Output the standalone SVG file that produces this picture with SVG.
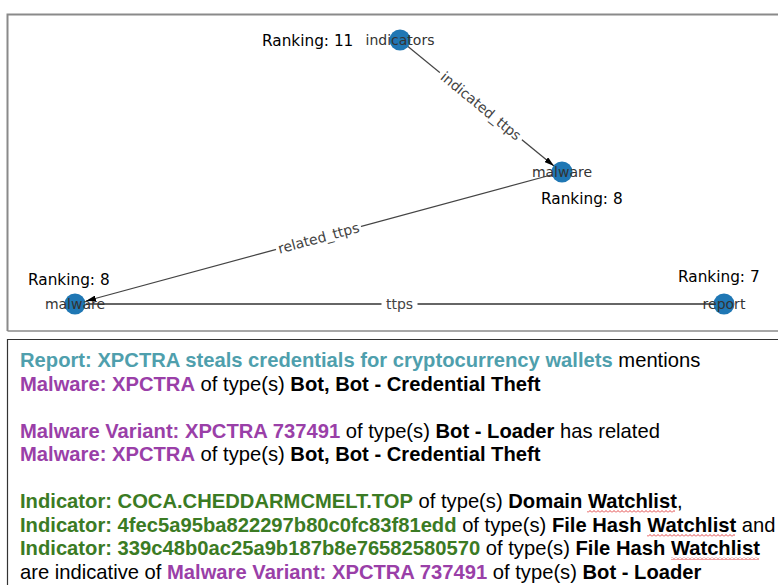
<svg xmlns="http://www.w3.org/2000/svg" width="778" height="585" viewBox="0 0 778 585">
<style>
.node{fill:#1f77b4}
.nl{font-family:"DejaVu Sans",sans-serif;font-size:14px;fill:#333;text-anchor:middle}
.rk{font-family:"DejaVu Sans",sans-serif;font-size:15.3px;fill:#000}
.el{font-family:"DejaVu Sans",sans-serif;font-size:14px;fill:#444;text-anchor:middle}
.edge{stroke:#444;stroke-width:1.2;fill:none}
.t{font-family:"Liberation Sans",Arial,sans-serif;font-size:20.2px;fill:#000}
.b{font-weight:bold}
.rp{fill:#4f9fad;font-weight:bold}
.mw{fill:#9a3fa8;font-weight:bold}
.ind{fill:#3b7b24;font-weight:bold}
</style>
<defs>
<marker id="arr" viewBox="0 0 10 6" refX="10" refY="3" markerWidth="10" markerHeight="6" markerUnits="userSpaceOnUse" orient="auto">
<path d="M0,0 L10,3 L0,6 Z" fill="#000"/>
</marker>
<pattern id="wavy" width="4" height="3" patternUnits="userSpaceOnUse">
<polyline points="0,2.5 2,0.5 4,2.5" stroke="#e03030" stroke-width="0.9" fill="none"/>
</pattern>
</defs>
<rect x="0" y="0" width="778" height="585" fill="#fff"/>
<path d="M7.5,331 V14.5 H778" stroke="#8a8a8a" stroke-width="2" fill="none"/>
<path d="M7.5,331 H778" stroke="#8a8a8a" stroke-width="1.5" fill="none"/>
<path d="M7.5,585 V339.5 H778" stroke="#333" stroke-width="1.2" fill="none"/>

<g id="connectors">
<line x1="724" y1="304" x2="86" y2="304" stroke="#666" stroke-width="2"/>
<line class="edge" x1="400" y1="40" x2="554" y2="166" marker-end="url(#arr)"/>
<line class="edge" x1="562" y1="172" x2="86" y2="301" marker-end="url(#arr)"/>
<g transform="translate(481,106) rotate(39.2)">
<rect x="-53" y="-9" width="106" height="18" fill="#fff"/>
<text class="el" x="0" y="5">indicated_ttps</text>
</g>
<g transform="translate(318.5,238) rotate(-15.17)">
<rect x="-44" y="-9" width="88" height="18" fill="#fff"/>
<text class="el" x="0" y="5">related_ttps</text>
</g>
<g transform="translate(399.5,304)">
<rect x="-18" y="-9" width="36" height="18" fill="#fff"/>
<text class="el" x="0" y="5">ttps</text>
</g>
</g>

<g id="node-indicators">
<circle class="node" cx="400" cy="40" r="10.5"/>
<text class="nl" x="400" y="45">indicators</text>
<text class="rk" x="262" y="46">Ranking: 11</text>
</g>
<g id="node-malware-1">
<circle class="node" cx="562" cy="172" r="10.5"/>
<text class="nl" x="562" y="177">malware</text>
<text class="rk" x="541" y="204">Ranking: 8</text>
</g>
<g id="node-malware-2">
<circle class="node" cx="75" cy="304" r="10.5"/>
<text class="nl" x="75" y="309">malware</text>
<text class="rk" x="28" y="285">Ranking: 8</text>
</g>
<g id="node-report">
<circle class="node" cx="724" cy="304" r="10.5"/>
<text class="nl" x="724" y="309">report</text>
<text class="rk" x="678" y="282">Ranking: 7</text>
</g>

<g id="description">
<text class="t" x="20" y="367"><tspan class="rp">Report: XPCTRA steals credentials for cryptocurrency wallets</tspan> mentions</text>
<text class="t" x="20" y="391"><tspan class="mw">Malware: XPCTRA</tspan> of type(s) <tspan class="b">Bot, Bot - Credential Theft</tspan></text>
<text class="t" x="20" y="438"><tspan class="mw">Malware Variant: XPCTRA 737491</tspan> of type(s) <tspan class="b">Bot - Loader</tspan> has related</text>
<text class="t" x="20" y="461"><tspan class="mw">Malware: XPCTRA</tspan> of type(s) <tspan class="b">Bot, Bot - Credential Theft</tspan></text>
<text class="t" x="20" y="508"><tspan class="ind">Indicator: COCA.CHEDDARMCMELT.TOP</tspan> of type(s) <tspan class="b">Domain Watchlist</tspan>,</text>
<text class="t" x="20" y="532"><tspan class="ind">Indicator: 4fec5a95ba822297b80c0fc83f81edd</tspan> of type(s) <tspan class="b">File Hash Watchlist</tspan> and</text>
<text class="t" x="20" y="555"><tspan class="ind">Indicator: 339c48b0ac25a9b187b8e76582580570</tspan> of type(s) <tspan class="b">File Hash Watchlist</tspan></text>
<text class="t" x="20" y="579">are indicative of <tspan class="mw">Malware Variant: XPCTRA 737491</tspan> of type(s) <tspan class="b">Bot - Loader</tspan></text>
<rect x="587" y="510" width="88" height="3" fill="url(#wavy)"/>
<rect x="647" y="534" width="88" height="3" fill="url(#wavy)"/>
<rect x="671" y="557" width="88" height="3" fill="url(#wavy)"/>
</g>
</svg>
